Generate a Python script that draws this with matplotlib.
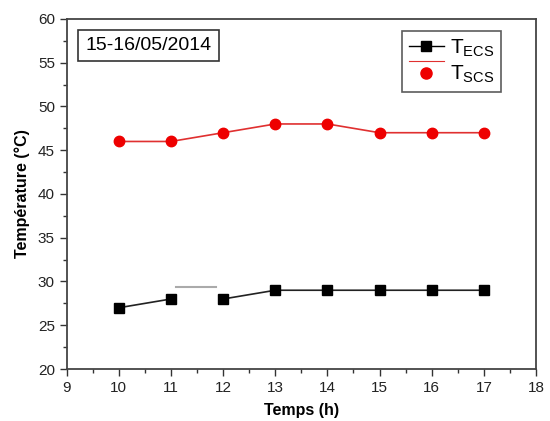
import matplotlib
matplotlib.use("Agg")
import matplotlib.pyplot as plt
from matplotlib.legend_handler import HandlerLine2DCompound
from matplotlib.lines import Line2D
from matplotlib.ticker import MultipleLocator

plt.rcParams['font.family'] = ['Liberation Sans', 'DejaVu Sans']
plt.rcParams['mathtext.fontset'] = 'custom'
plt.rcParams['mathtext.rm'] = 'Liberation Sans'
plt.rcParams['mathtext.it'] = 'Liberation Sans'

# data
hours = [10, 11, 12, 13, 14, 15, 16, 17]
t_ecs = [27, 28, 28, 29, 29, 29, 29, 29]
t_scs = [46, 46, 47, 48, 48, 47, 47, 47]
# stray grey segment in the original between 11 and 12 h
stray_x = [11.1, 11.87]
stray_y = [29.35, 29.35]
date_label = "15-16/05/2014"


class ShiftedLineHandler(HandlerLine2DCompound):
    # draws the line above the marker, like the legend in the original
    def create_artists(self, legend, orig_handle, xdescent, ydescent,
                       width, height, fontsize, trans):
        arts = super().create_artists(legend, orig_handle, xdescent, ydescent,
                                      width, height, fontsize, trans)
        line = arts[0]
        y = line.get_ydata()
        line.set_ydata([v + height * 0.8 for v in y])
        return arts


fig = plt.figure(figsize=(5.5, 4.21), dpi=100)
ax = fig.add_axes([0.1213, 0.1235, 0.8532, 0.8315])

ax.plot(hours[:2], t_ecs[:2], color='#222222', lw=1.2)
ax.plot(hours[2:], t_ecs[2:], color='#222222', lw=1.2)
ax.plot(hours, t_ecs, ls='none', marker='s', ms=6.5, color='black')
ax.plot(stray_x, stray_y, color='#aaaaaa', lw=1.5)
ax.plot(hours, t_scs, color='#e03030', lw=1.2)
ax.plot(hours, t_scs, ls='none', marker='o', ms=7.5, color='#ee0000')

ax.set_xlim(9, 18)
ax.set_ylim(20, 60)
ax.xaxis.set_major_locator(MultipleLocator(1))
ax.xaxis.set_minor_locator(MultipleLocator(0.5))
ax.yaxis.set_major_locator(MultipleLocator(5))
ax.yaxis.set_minor_locator(MultipleLocator(2.5))
ax.tick_params(which='both', direction='out', top=False, right=False,
               color='#333333', labelsize=11, labelcolor='#222222')
ax.tick_params(which='major', length=5, width=1)
ax.tick_params(which='minor', length=3, width=1)
for sp in ax.spines.values():
    sp.set_color('#444444')
    sp.set_linewidth(1.3)

ax.set_xlabel("Temps (h)", fontsize=11.5, fontweight='bold', labelpad=6)
ax.set_ylabel("Température (°C)", fontsize=11.5, fontweight='bold', labelpad=6)

ax.text(0.039, 0.924, date_label, transform=ax.transAxes, fontsize=14,
        va='center', ha='left',
        bbox=dict(boxstyle='square,pad=0.38', fc='white', ec='#333333', lw=1.2))

h_ecs = Line2D([], [], color='black', lw=1, marker='s', ms=6.5)
h_scs = Line2D([], [], color='#e03030', lw=0.8, marker='o', ms=8,
               markerfacecolor='#ee0000', markeredgecolor='#ee0000')
leg = ax.legend([h_ecs, h_scs], [r'T$_{\mathrm{ECS}}$', r'T$_{\mathrm{SCS}}$'],
                loc='upper right', bbox_to_anchor=(0.925, 0.965), fontsize=15,
                frameon=True, fancybox=False, edgecolor='#333333',
                handlelength=1.7, labelspacing=0.25, borderpad=0.3,
                handletextpad=0.3, borderaxespad=0,
                handler_map={h_ecs: HandlerLine2DCompound(),
                             h_scs: ShiftedLineHandler()})
leg.get_frame().set_linewidth(1.2)

fig.savefig("out.png", dpi=100)
